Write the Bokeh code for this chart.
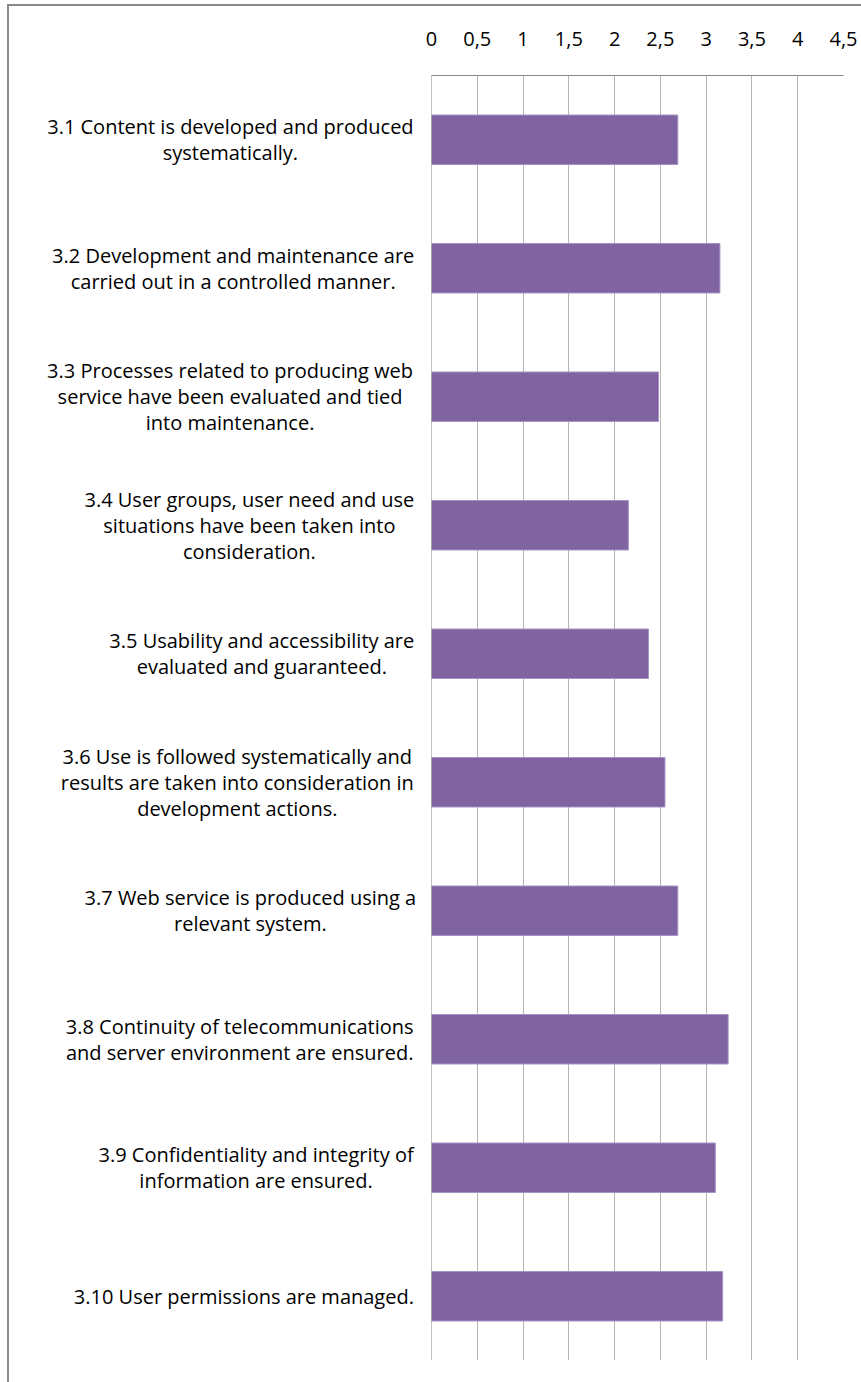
from bokeh.plotting import figure
from bokeh.models import Range1d, FixedTicker, Span
from bokeh.layouts import row
from bokeh.core.properties import value
from bokeh.embed import file_html
from bokeh.resources import INLINE

# ---- data ----
categories = [
    "3.1 Content is developed and produced\nsystematically.",
    "3.2 Development and maintenance are\ncarried out in a controlled manner.",
    "3.3 Processes related to producing web\nservice have been evaluated and tied\ninto maintenance.",
    "3.4 User groups, user need and use\nsituations have been taken into\nconsideration.",
    "3.5 Usability and accessibility are\nevaluated and guaranteed.",
    "3.6 Use is followed systematically and\nresults are taken into consideration in\ndevelopment actions.",
    "3.7 Web service is produced using a\nrelevant system.",
    "3.8 Continuity of telecommunications\nand server environment are ensured.",
    "3.9 Confidentiality and integrity of\ninformation are ensured.",
    "3.10 User permissions are managed.",
]
values = [2.69, 3.15, 2.48, 2.15, 2.37, 2.55, 2.69, 3.24, 3.10, 3.18]
tick_values = [0, 0.5, 1, 1.5, 2, 2.5, 3, 3.5, 4, 4.5]
tick_labels = ["0", "0,5", "1", "1,5", "2", "2,5", "3", "3,5", "4", "4,5"]

FONT = "Open Sans"
FS = 20
TFS = 20
BAR = "#8064A2"
GRID = "#b4b4b4"
AXIS = "#868686"

n = len(categories)
yr = Range1d(n, 0)
ys = [i + 0.5 for i in range(n)]

LW = 412  # width of the label panel
p = figure(
    width=852 - LW, height=1376,
    x_range=Range1d(0, 4.5), y_range=yr,
    x_axis_location="above",
    output_backend="svg", toolbar_location=None,
    min_border_left=10, min_border_right=18,
    min_border_top=69, min_border_bottom=22,
)
p.outline_line_color = None

p.hbar(y=ys, left=0, right=values, height=0.385,
       fill_color=BAR, line_color="#a693c2", line_width=1)

xa = p.xaxis[0]
xa.ticker = FixedTicker(ticks=tick_values)
xa.major_label_overrides = {v: s for v, s in zip(tick_values, tick_labels)}
xa.major_label_text_font = FONT
xa.major_label_text_font_size = f"{TFS}px"
xa.major_label_text_color = "black"
xa.major_tick_line_color = None
xa.minor_tick_line_color = None
xa.axis_line_color = AXIS
xa.major_label_standoff = 24

p.yaxis.visible = False
p.xgrid.grid_line_color = GRID
p.xgrid.ticker = FixedTicker(ticks=tick_values)
p.ygrid.grid_line_color = None
p.add_layout(Span(location=0, dimension="height", line_color=AXIS, line_width=1))

# ---- label panel ----
W = {" ": 0.26, ".": 0.27, ",": 0.25, "a": 0.56, "b": 0.61, "c": 0.48, "d": 0.61, "e": 0.56,
     "f": 0.34, "g": 0.54, "h": 0.61, "i": 0.25, "j": 0.25, "k": 0.53, "l": 0.25, "m": 0.93,
     "n": 0.61, "o": 0.6, "p": 0.61, "q": 0.61, "r": 0.41, "s": 0.48, "t": 0.35, "u": 0.61,
     "v": 0.5, "w": 0.78, "x": 0.52, "y": 0.5, "z": 0.47}

def width(s):
    tot = 0.0
    for ch in s:
        if ch.isdigit():
            tot += 0.57
        elif ch.isupper():
            tot += 0.66
        else:
            tot += W.get(ch, 0.55)
    return tot * FS

lp = figure(
    width=LW, height=1376,
    x_range=Range1d(0, LW), y_range=yr,
    output_backend="svg", toolbar_location=None,
    min_border_left=0, min_border_right=0,
    min_border_top=69, min_border_bottom=22,
)
lp.axis.visible = False
lp.grid.grid_line_color = None
lp.outline_line_color = None
xs = [LW - 8 - max(width(l) for l in c.split("\n")) / 2 for c in categories]
lp.text(x=xs, y=ys, text=categories, text_align="center", text_baseline="middle",
        text_font=value(FONT), text_font_size=f"{FS}px", text_line_height=0.96,
        text_color="black")

layout = row(lp, p, margin=(4, 0, 0, 7),
             styles={"border-top": "2px solid #8a8a8a", "border-left": "2px solid #8a8a8a"})

open("out.html", "w").write(file_html(layout, INLINE))
